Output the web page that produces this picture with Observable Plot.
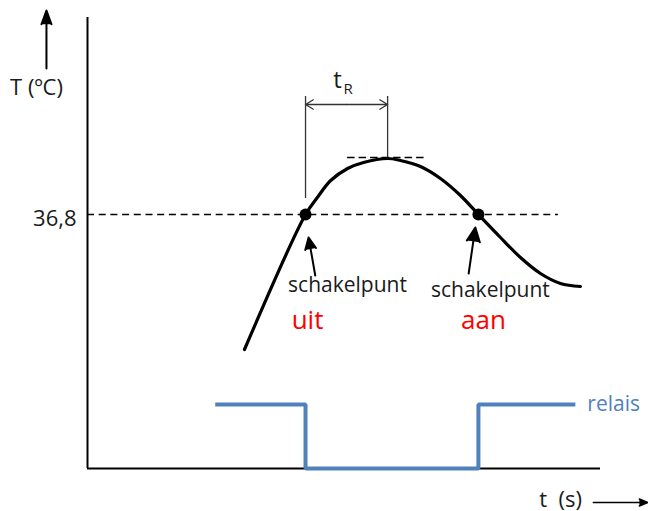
<!DOCTYPE html>
<html>
<head>
<meta charset="utf-8">
<script src="https://cdn.jsdelivr.net/npm/d3@7"></script>
<script src="https://cdn.jsdelivr.net/npm/@observablehq/plot@0.6"></script>
<style>
  html, body { margin: 0; padding: 0; background: #fff; }
  #chart { width: 648px; height: 511px; }
</style>
</head>
<body>
<div id="chart"></div>
<script>
// ---- data (time in arbitrary s, temperature in °C) ----
const curveTime = [30.6, 42.5, 44.8, 47.4, 50.7, 53.8, 58.5, 61.0, 64.9, 68.8, 72.7, 76.2, 80.5, 84.4, 88.3, 92.2, 96.1];
const curveTemp = [35.45, 36.80, 36.97, 37.14, 37.26, 37.32, 37.36, 37.34, 37.28, 37.16, 36.99, 36.80, 36.57, 36.37, 36.21, 36.11, 36.08];

const setpoint = 36.8;
const setpointEnd = 91.8;
const switchTime = [42.5, 76.2];
const switchName = ["schakelpunt", "schakelpunt"];
const switchState = ["uit", "aan"];

const peakTime = 58.5;
const peakTemp = 37.36;
const peakDashFrom = 50.7;
const peakDashTo = 65.9;

const relayTime = [24.9, 42.5, 76.2, 95.1];
const relayState = [1, 0, 1, 1];
const relayLabel = "relais";

const yTicks = [36.8];
const yTickLabels = ["36,8"];
const yLabel = "T (ºC)";
const xLabel = "t\u00a0 (s)";

// ---- layout constants ----
const xDomain = [0, 100];
const yDomain = [34.26, 38.77];
const relayHigh = 0.64;       // relay "on" height in temperature units
const tRTop = 37.98, tRArrow = 37.90;

const curve = curveTime.map((t, i) => ({t, T: curveTemp[i]}));
const switches = switchTime.map((t, i) => ({t, T: setpoint, name: switchName[i], state: switchState[i]}));
const relay = relayTime.map((t, i) => ({t, y: yDomain[0] + relayState[i] * relayHigh}));
const tRMid = (switchTime[0] + peakTime) / 2;

const ink = "#1a1a1a";
const blue = "#4f81bd";

const chart = Plot.plot({
  width: 648,
  height: 511,
  marginLeft: 87,
  marginRight: 48,
  marginTop: 17,
  marginBottom: 43,
  x: {domain: xDomain, axis: null},
  y: {domain: yDomain, axis: null},
  style: {fontFamily: "Open Sans", fontSize: "21px", color: ink, background: "white", overflow: "visible"},
  marks: [
    // axes lines
    Plot.ruleX([xDomain[0]], {stroke: "#000", strokeWidth: 2}),
    Plot.ruleY([yDomain[0]], {stroke: "#000", strokeWidth: 2}),
    // y tick label
    Plot.text(yTicks, {x: xDomain[0], y: d => d, text: (d, i) => yTickLabels[i], textAnchor: "end", dx: -11, dy: 4, fontSize: 22, fill: ink}),
    // setpoint dashed line
    Plot.ruleY([setpoint], {x1: xDomain[0], x2: setpointEnd, stroke: "#000", strokeWidth: 1.6, strokeDasharray: "7,4.7"}),
    // peak dashed line
    Plot.ruleY([peakTemp + 0.01], {x1: peakDashFrom, x2: peakDashTo, stroke: "#000", strokeWidth: 1.6, strokeDasharray: "7.5,4"}),
    // tR vertical guides
    Plot.ruleX([switchTime[0]], {y1: tRTop, y2: setpoint + 0.16, stroke: "#333", strokeWidth: 1.3}),
    Plot.ruleX([peakTime], {y1: tRTop, y2: peakTemp, stroke: "#333", strokeWidth: 1.3}),
    // tR double arrow
    Plot.arrow([{x1: tRMid, x2: switchTime[0]}, {x1: tRMid, x2: peakTime}], {
      x1: "x1", x2: "x2", y1: () => tRArrow, y2: () => tRArrow,
      stroke: "#333", strokeWidth: 1.3, headLength: 10.5, headAngle: 62
    }),
    Plot.text(["t"], {x: () => tRMid, y: () => tRArrow, dx: -9, dy: -24, fontSize: 24, fill: ink}),
    Plot.text(["R"], {x: () => tRMid, y: () => tRArrow, dx: -3, dy: -15, fontSize: 15, textAnchor: "start", fill: ink}),
    // temperature curve
    Plot.line(curve, {x: "t", y: "T", curve: "catmull-rom", stroke: "#000", strokeWidth: 3.2}),
    // switch points
    Plot.dot(switches, {x: "t", y: "T", r: 6, fill: "#000", stroke: null}),
    // arrows to switch points (filled heads)
    Plot.arrow([
      {x1: 44.4, y1: 36.19, x2: 43.1, y2: 36.57},
      {x1: 74.3, y1: 36.21, x2: 75.6, y2: 36.67}
    ], {x1: "x1", y1: "y1", x2: "x2", y2: "y2", stroke: "#000", fill: "#000", strokeWidth: 2, headLength: 12, headAngle: 50, strokeLinejoin: "miter"}),
    // switch labels
    Plot.text(switches, {x: "t", y: "T", text: "name", fill: ink, fontSize: 21,
      filter: (d, i) => i === 0, dx: 42, dy: 71}),
    Plot.text(switches, {x: "t", y: "T", text: "name", fill: ink, fontSize: 21,
      filter: (d, i) => i === 1, dx: 12, dy: 76}),
    Plot.text(switches, {x: "t", y: "T", text: "state", fill: "#ff0000", fontSize: 26,
      filter: (d, i) => i === 0, dx: 2, dy: 106}),
    Plot.text(switches, {x: "t", y: "T", text: "state", fill: "#ff0000", fontSize: 26,
      filter: (d, i) => i === 1, dx: 5, dy: 106}),
    // relay signal
    Plot.line(relay, {x: "t", y: "y", curve: "step-after", stroke: blue, strokeWidth: 4, strokeLinejoin: "miter", strokeLinecap: "butt"}),
    Plot.text([relay[relay.length - 1]], {x: "t", y: "y", text: () => relayLabel, textAnchor: "start", dx: 12, fill: blue, fontSize: 21}),
    // axis labels and arrows
    Plot.text([yLabel], {frameAnchor: "top-left", textAnchor: "middle", lineAnchor: "middle", dx: -51, dy: 70, fontSize: 22, fill: ink}),
    Plot.arrow([{x1: -8.0, y1: 38.26, x2: -8.0, y2: 38.84}], {
      x1: "x1", y1: "y1", x2: "x2", y2: "y2", stroke: "#000", fill: "#000", strokeWidth: 2, headLength: 11, headAngle: 40, strokeLinejoin: "miter"
    }),
    Plot.text([xLabel], {frameAnchor: "bottom-right", textAnchor: "middle", lineAnchor: "middle", dx: -40, dy: 31, fontSize: 22, fill: ink}),
    Plot.arrow([{x1: 98.6, y1: 33.92, x2: 109.2, y2: 33.92}], {
      x1: "x1", y1: "y1", x2: "x2", y2: "y2", stroke: "#000", fill: "#000", strokeWidth: 1.5, headLength: 9, headAngle: 45, strokeLinejoin: "miter"
    })
  ]
});
document.getElementById("chart").appendChild(chart);
</script>
</body>
</html>
